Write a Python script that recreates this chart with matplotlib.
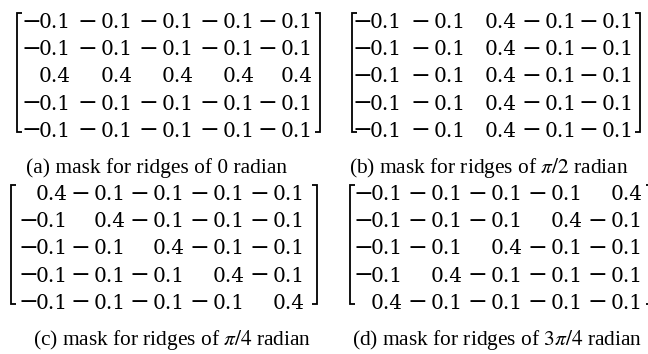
import matplotlib
matplotlib.use("Agg")
import matplotlib.pyplot as plt

plt.rcParams['font.family'] = ['Liberation Serif', 'DejaVu Serif']
plt.rcParams['mathtext.fontset'] = 'stix'

# ---- data -------------------------------------------------------------
mask_0 = [[-0.1, -0.1, -0.1, -0.1, -0.1],
          [-0.1, -0.1, -0.1, -0.1, -0.1],
          [0.4, 0.4, 0.4, 0.4, 0.4],
          [-0.1, -0.1, -0.1, -0.1, -0.1],
          [-0.1, -0.1, -0.1, -0.1, -0.1]]
mask_pi2 = [[-0.1, -0.1, 0.4, -0.1, -0.1],
            [-0.1, -0.1, 0.4, -0.1, -0.1],
            [-0.1, -0.1, 0.4, -0.1, -0.1],
            [-0.1, -0.1, 0.4, -0.1, -0.1],
            [-0.1, -0.1, 0.4, -0.1, -0.1]]
mask_pi4 = [[0.4, -0.1, -0.1, -0.1, -0.1],
            [-0.1, 0.4, -0.1, -0.1, -0.1],
            [-0.1, -0.1, 0.4, -0.1, -0.1],
            [-0.1, -0.1, -0.1, 0.4, -0.1],
            [-0.1, -0.1, -0.1, -0.1, 0.4]]
mask_3pi4 = [[-0.1, -0.1, -0.1, -0.1, 0.4],
             [-0.1, -0.1, -0.1, 0.4, -0.1],
             [-0.1, -0.1, 0.4, -0.1, -0.1],
             [-0.1, 0.4, -0.1, -0.1, -0.1],
             [0.4, -0.1, -0.1, -0.1, -0.1]]
captions = [r"(a) mask for ridges of 0 radian",
            r"(b) mask for ridges of $\pi/2$ radian",
            r"(c) mask for ridges of $\pi/4$ radian",
            r"(d) mask for ridges of $3\pi/4$ radian"]

# ---- layout (pixel coordinates) ---------------------------------------
W, H = 648, 354
ROW_SP = 27.2
NUM_FS = 14.5
MINUS_FS = 17
GAP_UNARY = -2
GAP_BINARY = 3.5
panels = [
    dict(values=mask_0, cols=[71, 133, 194, 255, 313], base=28, left=17, right=320, cx=157, cy=173),
    dict(values=mask_pi2, cols=[402, 466, 517, 577, 634], base=28, left=352, right=640, cx=489, cy=173),
    dict(values=mask_pi4, cols=[68, 126, 185, 245, 305], base=200, left=11, right=317, cx=172, cy=345),
    dict(values=mask_3pi4, cols=[403, 463, 523, 583, 643], base=200, left=350, right=651, cx=497, cy=345),
]

fig = plt.figure(figsize=(W / 100, H / 100), dpi=100)
ax = fig.add_axes([0, 0, 1, 1])
ax.set_xlim(0, W)
ax.set_ylim(H, 0)
ax.axis('off')
renderer = fig.canvas.get_renderer()

for p, cap in zip(panels, captions):
    vals = p['values']
    for i, row in enumerate(vals):
        y = p['base'] + i * ROW_SP
        for j, v in enumerate(row):
            num = f"{abs(v):.1f}"
            t = ax.text(p['cols'][j], y, num, ha='right', va='baseline',
                        fontsize=NUM_FS, family='DejaVu Serif')
            if v < 0:
                wpx = t.get_window_extent(renderer).width
                gap = GAP_UNARY if j == 0 else GAP_BINARY
                ax.text(p['cols'][j] - wpx - gap, y + 0.5, "\u2212", ha='right',
                        va='baseline', fontsize=MINUS_FS, family='DejaVu Serif')
    top = p['base'] - 15
    bot = p['base'] + 4 * ROW_SP - 5
    L, R = p['left'], p['right']
    ax.plot([L + 5, L, L, L + 5], [top, top, bot, bot], color='black', lw=1.3,
            solid_joinstyle='miter', solid_capstyle='butt')
    ax.plot([R - 5, R, R, R - 5], [top, top, bot, bot], color='black', lw=1.3,
            solid_joinstyle='miter', solid_capstyle='butt')
    ax.text(p['cx'], p['cy'], cap, ha='center', va='baseline', fontsize=15.4)

fig.savefig("out.png", dpi=100)
